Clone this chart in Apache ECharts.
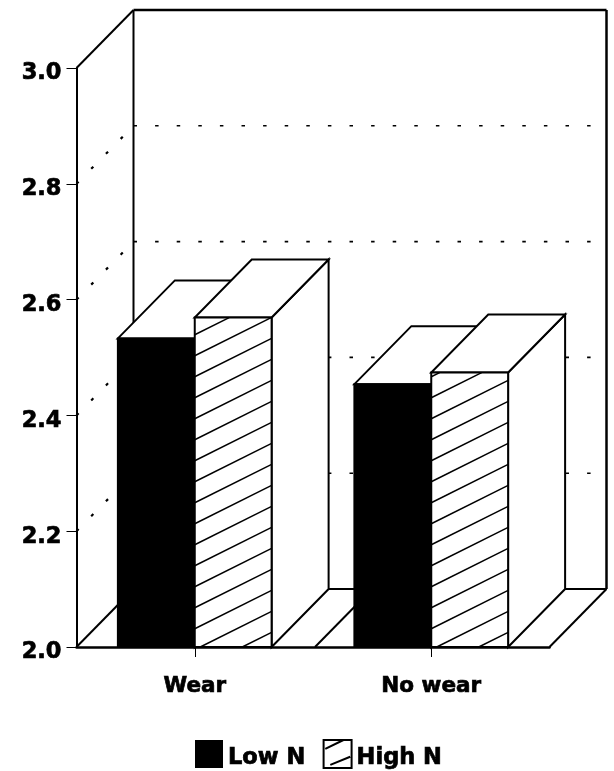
<!DOCTYPE html>
<html>
<head>
<meta charset="utf-8">
<style>html,body{margin:0;padding:0;background:#fff}#c{width:614px;height:771px}</style>
<script src="https://cdn.jsdelivr.net/npm/echarts@6/dist/echarts.min.js"></script>
</head>
<body>
<div id="c"></div>
<script>
var categories = ['Wear', 'No wear'];
var lowN = [2.533, 2.454];
var highN = [2.569, 2.474];
var yTicks = [2.2, 2.4, 2.6, 2.8];
var yMin = 2.0, yMax = 3.0, yStep = 0.2;

var DX = 57, DY = 58, BAR_SHARE = 0.325, INK = '#000';
var chart = echarts.init(document.getElementById('c'), null, {renderer: 'canvas'});

function seg(x1, y1, x2, y2, w, dash) {
  return {type: 'line', shape: {x1: x1, y1: y1, x2: x2, y2: y2},
    style: {stroke: INK, lineWidth: w, lineDash: dash || null, fill: null}};
}
function poly(points, fill, w) {
  return {type: 'polygon', shape: {points: points},
    style: {fill: fill, stroke: INK, lineWidth: w, lineJoin: 'miter'}};
}
// Hatch strokes inside the front face, rising to the right.
function hatch(x0, x1, yTop, yBot) {
  var out = [], slope = 0.5, gap = 21;
  var yAtLeft = yBot + 47.5 * slope;
  while (yAtLeft - (x1 - x0) * slope > yTop - 1e-6 || yAtLeft > yTop) {
    var ax = x0, ay = yAtLeft, bx = x1, by = yAtLeft - (x1 - x0) * slope;
    if (ay > yBot) { ax = x0 + (ay - yBot) / slope; ay = yBot; }
    if (by < yTop) { bx = x0 + (yAtLeft - yTop) / slope; by = yTop; }
    if (ax < bx) out.push(seg(ax, ay, bx, by, 1.4));
    yAtLeft -= gap;
  }
  return out;
}
function bar(params, api, side, hatched) {
  var c = api.value(0), top = api.coord([c, api.value(1)]), base = api.coord([c, yMin]);
  var w = api.size([1, 0])[0] * BAR_SHARE;
  var x0 = side < 0 ? top[0] - w : top[0], x1 = x0 + w, yt = top[1], yb = base[1];
  var kids = [
    poly([[x1, yt], [x1 + DX, yt - DY], [x1 + DX, yb - DY], [x1, yb]], '#fff', 2),
    poly([[x0, yt], [x1, yt], [x1 + DX, yt - DY], [x0 + DX, yt - DY]], '#fff', 2),
    poly([[x0, yt], [x1, yt], [x1, yb], [x0, yb]], hatched ? '#fff' : INK, 2)
  ];
  if (hatched) kids = kids.concat(hatch(x0, x1, yt, yb));
  return {type: 'group', children: kids};
}
function renderWalls(params, api) {
  var tl = api.coord([0, yMax]), bl = api.coord([0, yMin]);
  var band = api.size([1, 0])[0];
  var xl = tl[0] - band / 2, xr = xl + band * categories.length;
  var yt = tl[1], yb = bl[1];
  return {type: 'group', children: [
    seg(xl, yt, xl + DX, yt - DY, 2),
    seg(xl + DX, yt - DY, xr + DX, yt - DY, 2.5),
    seg(xl + DX, yt - DY, xl + DX, yb - DY, 2),
    seg(xr + DX, yt - DY, xr + DX, yb - DY, 2.5),
    seg(xl + DX, yb - DY, xr + DX, yb - DY, 2),
    seg(xr, yb, xr + DX, yb - DY, 2),
    seg(xl, yb, xl + DX, yb - DY, 2),
    seg(xl + band + 2, yb, xl + band + 2 + DX, yb - DY, 2)
  ]};
}
function renderGridline(params, api) {
  var p = api.coord([0, api.value(1)]);
  var band = api.size([1, 0])[0];
  var xl = p[0] - band / 2, xr = xl + band * categories.length, y = p[1];
  return {type: 'group', children: [
    seg(xl, y, xl + DX, y - DY, 2.2, [3, 18]),
    seg(xl + DX, y - DY, xr + DX, y - DY, 1.6, [3.5, 18.1])
  ]};
}
var hatchIcon = 'path://M0 0H10V10H0Z M0.6 3.2L7.1 0 M2.4 8.9L9.5 6';
var heavy = {textBorderColor: INK, textBorderWidth: 0.7};
var face = {color: INK, fontFamily: 'DejaVu Sans', fontWeight: 'bold'};

chart.setOption({
  animation: false,
  backgroundColor: '#fff',
  textStyle: {fontFamily: 'DejaVu Sans'},
  grid: {left: 76.5, top: 68, width: 473, height: 579, containLabel: false},
  xAxis: {
    type: 'category', data: categories,
    axisLine: {show: true, lineStyle: {color: INK, width: 2.5}},
    axisTick: {show: true, alignWithLabel: true, length: 10, lineStyle: {color: INK, width: 1}},
    axisLabel: Object.assign({fontSize: 21.5, margin: 28}, face, heavy),
    splitLine: {show: false}
  },
  yAxis: {
    type: 'value', min: yMin, max: yMax, interval: yStep,
    axisLine: {show: true, lineStyle: {color: INK, width: 2}},
    axisTick: {show: true, length: 10, lineStyle: {color: INK, width: 1}},
    axisLabel: Object.assign({fontSize: 22.5, margin: 15,
      formatter: function (v) { return '{n|' + v.toFixed(1) + '}'; },
      rich: {n: Object.assign({fontSize: 22.5, padding: [11, 0, 0, 0]}, face, heavy)}}, face, heavy),
    splitLine: {show: false}
  },
  legend: {
    left: 190, top: 734, itemWidth: 28, itemHeight: 28, itemGap: 17, selectedMode: false,
    formatter: '{t|{name}}',
    textStyle: Object.assign({fontSize: 22.5,
      rich: {t: Object.assign({fontSize: 22.5, padding: [8, 0, 0, 0]}, face, heavy)}}, face, heavy),
    data: [
      {name: 'Low N', icon: 'rect', itemStyle: {color: INK, borderWidth: 0}},
      {name: 'High N', icon: hatchIcon, itemStyle: {color: '#fff', borderColor: INK, borderWidth: 2}}
    ]
  },
  series: [
    {type: 'custom', name: 'walls', silent: true, z: 1, renderItem: renderWalls,
      data: [[0, yMax]], encode: {x: 0, y: 1}},
    {type: 'custom', name: 'gridlines', silent: true, z: 1, renderItem: renderGridline,
      data: yTicks.map(function (t) { return [0, t]; }), encode: {x: 0, y: 1}},
    {type: 'custom', name: 'Low N', z: 2, itemStyle: {color: INK},
      renderItem: function (p, a) { return bar(p, a, -1, false); },
      data: lowN.map(function (v, i) { return [i, v]; }), encode: {x: 0, y: 1}},
    {type: 'custom', name: 'High N', z: 3, itemStyle: {color: '#fff'},
      renderItem: function (p, a) { return bar(p, a, 1, true); },
      data: highN.map(function (v, i) { return [i, v]; }), encode: {x: 0, y: 1}}
  ]
});
</script>
</body>
</html>
